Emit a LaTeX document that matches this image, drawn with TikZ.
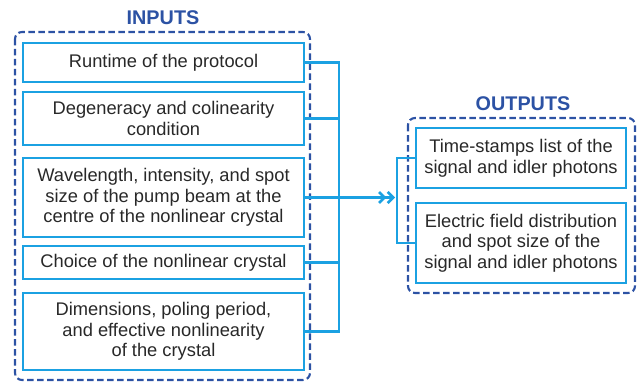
\documentclass[tikz,border=0pt]{standalone}
\usepackage{fontspec}
\setmainfont{Liberation Sans}
\usetikzlibrary{arrows.meta}
\definecolor{boxcyan}{RGB}{27,161,226}
\definecolor{groupblue}{RGB}{44,82,164}
\definecolor{bodytext}{RGB}{40,40,40}
\tikzset{
  itembox/.style={draw=boxcyan, line width=2.5pt, rectangle, align=center,
    text=bodytext, font=\fontsize{18.3}{20.7}\selectfont, inner sep=0pt},
  groupframe/.style={draw=groupblue, line width=2.1pt, dash pattern=on 6.5pt off 3.5pt,
    rounded corners=7pt},
  grouptitle/.style={text=groupblue, font=\fontsize{19.8}{22}\selectfont\bfseries},
  link/.style={draw=boxcyan, line width=2.5pt},
  flow/.style={link, shorten >=2pt,
    -{Straight Barb[length=5.5pt,width=11pt,line width=2.6pt]Straight Barb[length=5.5pt,width=11pt,line width=2.6pt]}}
}
\begin{document}
\begin{tikzpicture}[x=1pt,y=-1pt]
\useasboundingbox (0,0) rectangle (642,385);

% group frames
\draw[groupframe] (15,32) rectangle (310,380);
\draw[groupframe] (408,118) rectangle (635,293);
\node[grouptitle] (intitle) at (163,18) {INPUTS};
\node[grouptitle] (outtitle) at (523,104) {OUTPUTS};

% input items
\node[itembox, minimum width=281pt, minimum height=39pt] (in1) at (163.5,62.5)
  {Runtime of the protocol};
\node[itembox, minimum width=281pt, minimum height=53pt] (in2) at (163.5,118.5)
  {Degeneracy and colinearity\\condition};
\node[itembox, minimum width=281pt, minimum height=79pt] (in3) at (163.5,197.5)
  {Wavelength, intensity, and spot\\size of the pump beam at the\\centre of the nonlinear crystal};
\node[itembox, minimum width=281pt, minimum height=33pt] (in4) at (163.5,262.5)
  {Choice of the nonlinear crystal};
\node[itembox, minimum width=281pt, minimum height=77pt] (in5) at (163.5,331.5)
  {Dimensions, poling period,\\and effective nonlinearity\\of the crystal};

% output items
\node[itembox, minimum width=210pt, minimum height=60pt] (out1) at (521,158)
  {Time-stamps list of the\\signal and idler photons};
\node[itembox, minimum width=210pt, minimum height=80pt] (out2) at (521,243)
  {Electric field distribution\\and spot size of the\\signal and idler photons};

% collecting bus and bracket
\coordinate (bus) at (339,197.5);
\coordinate (brk) at (397,197.5);
\foreach \n in {in1,in2,in3,in4,in5}
  \draw[link] (\n.east) -| (bus);
\draw[link] (out1.west) -| (brk) |- (out2.west);
\draw[flow] (bus) -- (brk);
\end{tikzpicture}
\end{document}
